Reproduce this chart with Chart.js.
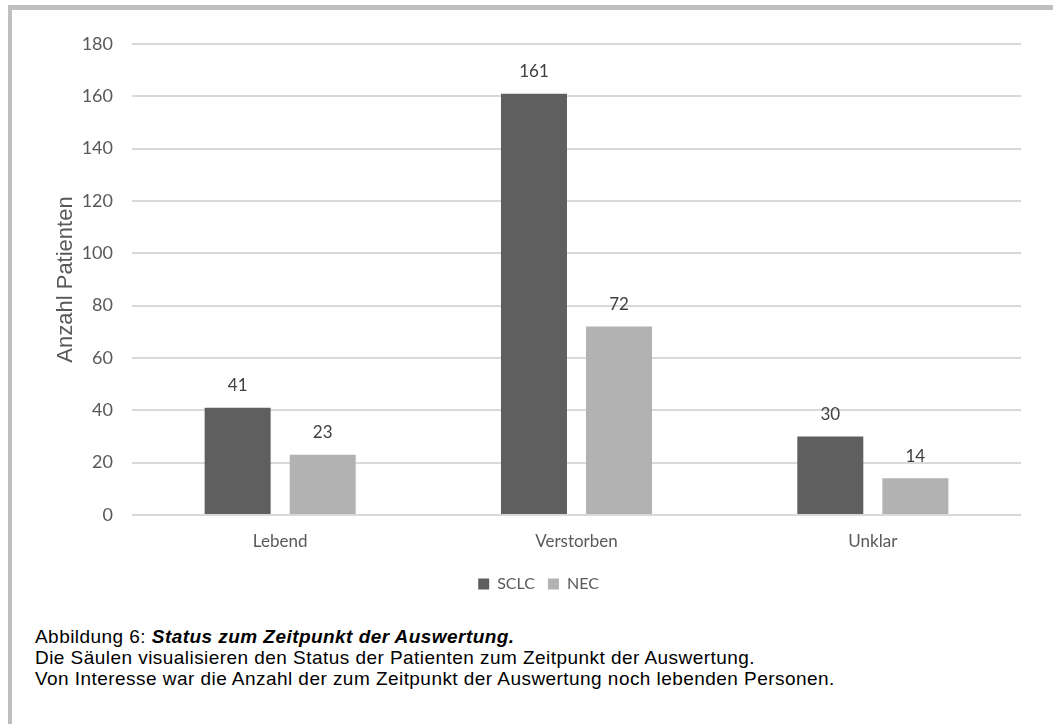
<!DOCTYPE html>
<html>
<head>
<meta charset="utf-8">
<script src="https://cdn.jsdelivr.net/npm/chart.js@4"></script>
<style>
  body { margin: 0; background: #fff; width: 1053px; height: 724px; position: relative; overflow: hidden; }
  .frame-top { position: absolute; left: 8px; top: 5px; width: 1045px; height: 5px; background: #bfbfbf; }
  .frame-left { position: absolute; left: 8px; top: 5px; width: 4px; height: 719px; background: #bfbfbf; }
  #wrap { position: absolute; left: 12px; top: 10px; width: 1041px; height: 592px; }
  .caption { position: absolute; left: 35px; top: 626px; font-family: "Liberation Sans", Arial, sans-serif; font-size: 19px; letter-spacing: 0.45px; line-height: 21px; color: #000; white-space: nowrap; }
  .caption b { font-style: italic; }
</style>
</head>
<body>
<div class="frame-top"></div>
<div class="frame-left"></div>
<div id="wrap"><canvas id="chart"></canvas></div>
<div class="caption">
  Abbildung 6: <b>Status zum Zeitpunkt der Auswertung.</b><br>
  Die Säulen visualisieren den Status der Patienten zum Zeitpunkt der Auswertung.<br>
  Von Interesse war die Anzahl der zum Zeitpunkt der Auswertung noch lebenden Personen.
</div>
<script>
const categories = ["Lebend", "Verstorben", "Unklar"];
const seriesNames = ["SCLC", "NEC"];
const sclcValues = [41, 161, 30];
const necValues = [23, 72, 14];
const yTicks = [0, 20, 40, 60, 80, 100, 120, 140, 160, 180];

const valueLabels = {
  id: "valueLabels",
  afterDatasetsDraw(chart) {
    const ctx = chart.ctx;
    ctx.save();
    ctx.font = "17px Lato, 'Open Sans', sans-serif";
    ctx.fillStyle = "#404040";
    ctx.textAlign = "center";
    ctx.textBaseline = "middle";
    chart.data.datasets.forEach((ds, i) => {
      chart.getDatasetMeta(i).data.forEach((bar, j) => {
        ctx.fillText(ds.data[j], bar.x, bar.y - 22);
      });
    });
    ctx.restore();
  }
};

new Chart(document.getElementById("chart"), {
  type: "bar",
  data: {
    labels: categories,
    datasets: [
      { label: seriesNames[0], data: sclcValues, backgroundColor: "#5f5f5f", borderWidth: 0 },
      { label: seriesNames[1], data: necValues, backgroundColor: "#b2b2b2", borderWidth: 0 }
    ]
  },
  options: {
    responsive: true, maintainAspectRatio: false,
    animation: false,
    barPercentage: 0.776,
    categoryPercentage: 0.574,
    layout: { padding: { left: 44, right: 32, top: 34, bottom: 0 } },
    plugins: {
      legend: {
        position: "bottom",
        labels: { boxWidth: 11, boxHeight: 11, padding: 13, color: "#595959", font: { family: "Lato", size: 16 } }
      },
      tooltip: { enabled: false }
    },
    scales: {
      y: {
        min: 0, max: 180,
        afterBuildTicks: axis => { axis.ticks = yTicks.map(v => ({ value: v })); },
        afterFit: axis => { axis.width = 76; },
        grid: { color: "#d9d9d9", lineWidth: 2, drawTicks: false },
        border: { display: false },
        ticks: { padding: 19, color: "#595959", font: { family: "Lato", size: 18 } },
        title: { display: true, text: "Anzahl Patienten", color: "#595959", padding: { top: -3, bottom: 0 }, font: { family: "'Liberation Sans', Arial", size: 22 } }
      },
      x: {
        afterFit: axis => { axis.height = 48; },
        grid: { display: false },
        border: { display: false },
        ticks: { padding: 8, color: "#595959", font: { family: "Lato", size: 17 } }
      }
    }
  },
  plugins: [valueLabels]
});
</script>
</body>
</html>
